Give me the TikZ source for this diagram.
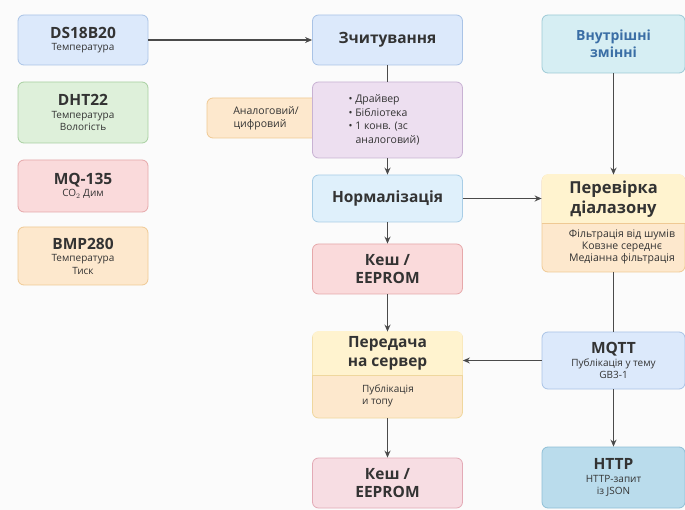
\documentclass[tikz,border=0pt]{standalone}
\usepackage{fontspec}
\setmainfont{Open Sans}
\usetikzlibrary{arrows.meta,positioning}

\definecolor{bgcol}{HTML}{FBFBFB}
\definecolor{txtcol}{HTML}{333333}
\definecolor{arrcol}{HTML}{4A4A4A}
\definecolor{bluefill}{HTML}{DCE9FB}
\definecolor{blueline}{HTML}{A9C3E6}
\definecolor{greenfill}{HTML}{DEF0DA}
\definecolor{greenline}{HTML}{A8D0A1}
\definecolor{redfill}{HTML}{FADADB}
\definecolor{redline}{HTML}{E6A8AA}
\definecolor{orangefill}{HTML}{FDE8CD}
\definecolor{orangeline}{HTML}{EFC994}
\definecolor{purplefill}{HTML}{EDDFF0}
\definecolor{purpleline}{HTML}{C8B2D3}
\definecolor{cyanfill}{HTML}{DFF0FB}
\definecolor{cyanline}{HTML}{A8CDE6}
\definecolor{yellowfill}{HTML}{FFF3CF}
\definecolor{yellowline}{HTML}{EFD79E}
\definecolor{pinkfill}{HTML}{F7DDE3}
\definecolor{pinkline}{HTML}{E3AAB6}
\definecolor{tealfill}{HTML}{D6EEF3}
\definecolor{tealline}{HTML}{9DCAD6}
\definecolor{tealtext}{HTML}{3A6EA5}
\definecolor{httpfill}{HTML}{BADCEC}
\definecolor{httpline}{HTML}{8FBFD6}

\newcommand{\hdfont}{\fontsize{15.5}{18.5}\selectfont\bfseries}
\newcommand{\smfont}{\fontsize{10}{12.5}\selectfont}

\tikzset{
  box/.style={draw, rounded corners=6pt, line width=0.8pt, align=center,
    inner sep=2pt, text=txtcol, font=\smfont},
  arr/.style={-{Stealth[length=7pt,width=6pt]}, line width=1.6pt, draw=arrcol},
  link/.style={line width=1.6pt, draw=arrcol},
}

\begin{document}
\begin{tikzpicture}[x=1pt, y=-1pt]
  \useasboundingbox (0,0) rectangle (685,510);
  \fill[bgcol] (0,0) rectangle (685,510);

  % sensors
  \node[box, fill=bluefill, draw=blueline, minimum width=130pt, minimum height=50pt]
    (ds) at (83,40) {{\hdfont DS18B20}\\Температура};
  \node[box, fill=greenfill, draw=greenline, minimum width=130pt, minimum height=61pt]
    (dht) at (83,112.5) {{\hdfont DHT22}\\Температура\\Вологість};
  \node[box, fill=redfill, draw=redline, minimum width=130pt, minimum height=52pt]
    (mq) at (83,186) {{\hdfont MQ-135}\\CO$_2$ Дим};
  \node[box, fill=orangefill, draw=orangeline, minimum width=130pt, minimum height=58pt]
    (bmp) at (83,256) {{\hdfont BMP280}\\Температура\\Тиск};

  % middle column
  \node[box, fill=bluefill, draw=blueline, minimum width=150pt, minimum height=50pt,
    font=\hdfont] (read) at (387.5,40) {Зчитування};
  \node[box, fill=orangefill, draw=orangeline, minimum width=118pt, minimum height=40pt,
    font=\fontsize{10.5}{13}\selectfont] (adc) at (266,118) {Аналоговий/\\цифровий\hspace*{12pt}};
  \node[box, fill=purplefill, draw=purpleline, minimum width=150pt, minimum height=76pt]
    (drv) at (387.5,120) {};
  \node[align=left, text=txtcol, font=\fontsize{10.5}{13.5}\selectfont]
    (drvtext) at (384,120) {• Драйвер\\• Бібліотека\\• 1 конв. (зс\\\hspace*{7pt}аналоговий)};
  \node[box, fill=cyanfill, draw=cyanline, minimum width=150pt, minimum height=47pt,
    font=\hdfont] (norm) at (387.5,198.5) {Нормалізація};
  \node[box, fill=redfill, draw=redline, minimum width=150pt, minimum height=50pt,
    font=\hdfont] (cache) at (387.5,269) {Кеш /\\EEPROM};

  \node[box, fill=orangefill, draw=yellowline, minimum width=150pt, minimum height=86pt]
    (send) at (387.5,375) {};
  \begin{scope}
    \clip (send.north west) rectangle (send.east);
    \fill[yellowfill, rounded corners=6pt] ([shift={(0.4,-0.4)}]send.north west)
      rectangle ([shift={(-0.4,0.4)}]send.south east);
  \end{scope}
  \draw[yellowline, line width=0.8pt] (send.west) -- (send.east);
  \node[align=center, text=txtcol, font=\hdfont] (sendhead) at (387.5,353.5) {Передача\\на сервер};
  \node[align=left, text=txtcol, font=\smfont] (sendsub) at (388,396) {Публікація\\и топу};

  \node[box, fill=pinkfill, draw=pinkline, minimum width=150pt, minimum height=50pt,
    font=\hdfont] (cachetwo) at (387.5,483) {Кеш /\\EEPROM};

  % right column
  \node[box, fill=tealfill, draw=tealline, minimum width=143pt, minimum height=58pt,
    text=tealtext, font=\fontsize{14}{17}\selectfont\bfseries] (vars) at (613.5,44) {Внутрішні\\змінні};

  \node[box, fill=orangefill, draw=orangeline, minimum width=143pt, minimum height=97pt]
    (range) at (613.5,223.5) {};
  \begin{scope}
    \clip (range.north west) rectangle (range.east);
    \fill[yellowfill, rounded corners=6pt] ([shift={(0.4,-0.4)}]range.north west)
      rectangle ([shift={(-0.4,0.4)}]range.south east);
  \end{scope}
  \draw[orangeline, line width=0.8pt] (range.west) -- (range.east);
  \node[align=center, text=txtcol, font=\fontsize{16.5}{19.5}\selectfont\bfseries] (rangehead) at (613.5,199)
    {Перевірка\\діалазону};
  \node[align=center, text=txtcol, font=\fontsize{10.5}{12}\selectfont] (rangesub) at (622,247)
    {Фільтрація від шумів\\Ковзне середнє\\Медіанна фільтрація};

  \node[box, fill=bluefill, draw=blueline, minimum width=143pt, minimum height=57pt]
    (mqtt) at (613.5,360.5) {{\hdfont MQTT}\\Публікація у тему\\GB3-1};
  \node[box, fill=httpfill, draw=httpline, minimum width=143pt, minimum height=61pt]
    (http) at (613.5,477.5) {{\hdfont HTTP}\\HTTP-запит\\із JSON};

  % connectors
  \draw[arr] (ds) -- (read);
  \draw[link] (read) -- (drv);
  \draw[arr] (drv) -- (norm);
  \draw[arr] (norm) -- (cache);
  \draw[arr] (cache) -- (send);
  \draw[arr] (send) -- (cachetwo);
  \draw[arr] (norm.east) -- (norm.east -| range.west);
  \draw[arr] (vars) -- (range);
  \draw[link] (range) -- (mqtt);
  \draw[arr] (mqtt.west) -- (mqtt.west -| send.east);
  \draw[arr] (mqtt) -- (http);
\end{tikzpicture}
\end{document}
